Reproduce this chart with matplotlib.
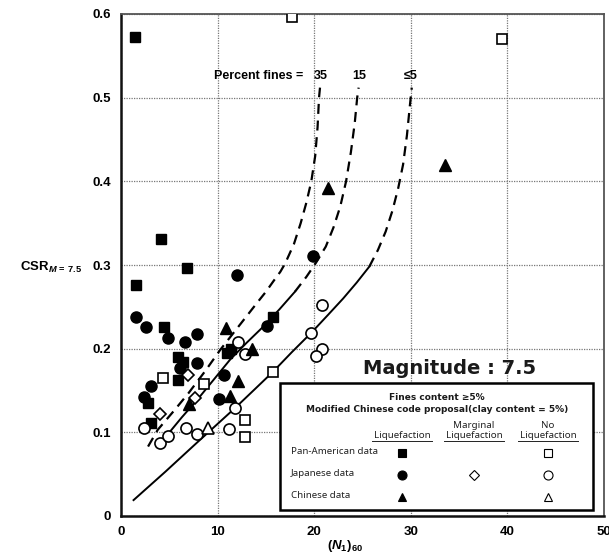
import matplotlib
matplotlib.use("Agg")
import matplotlib.pyplot as plt
from matplotlib.lines import Line2D
from matplotlib.patches import Rectangle

plt.rcParams['font.family'] = ['Liberation Sans', 'DejaVu Sans']
plt.rcParams['mathtext.fontset'] = 'custom'
plt.rcParams['mathtext.rm'] = 'Liberation Sans:bold'
plt.rcParams['mathtext.it'] = 'Liberation Sans:italic:bold'
plt.rcParams['mathtext.bf'] = 'Liberation Sans:bold'

# ---------------- data ----------------
# Pan-American data
pa_liq_x = [1.4, 4.1, 6.8, 1.6, 4.5, 5.9, 6.4, 5.9, 2.8, 3.1, 11.0, 11.4, 15.7]
pa_liq_y = [0.572, 0.331, 0.297, 0.276, 0.226, 0.190, 0.184, 0.163, 0.135, 0.111, 0.195, 0.200, 0.238]
pa_no_x = [17.7, 39.4, 4.3, 8.6, 15.7, 12.8, 12.8]
pa_no_y = [0.597, 0.570, 0.165, 0.158, 0.172, 0.115, 0.094]

# Japanese data
jp_liq_x = [12.0, 19.9, 1.6, 2.6, 4.9, 6.6, 7.9, 15.1, 6.1, 7.9, 3.1, 2.4, 10.7, 10.1]
jp_liq_y = [0.288, 0.311, 0.238, 0.226, 0.213, 0.208, 0.218, 0.227, 0.177, 0.183, 0.155, 0.142, 0.169, 0.140]
jp_marg_x = [6.9, 7.7, 4.0]
jp_marg_y = [0.169, 0.141, 0.122]
jp_no_x = [2.4, 4.0, 4.9, 6.7, 7.9, 11.2, 11.8, 12.1, 12.8, 19.7, 20.8, 20.8, 20.2]
jp_no_y = [0.105, 0.087, 0.096, 0.105, 0.098, 0.104, 0.129, 0.208, 0.194, 0.219, 0.252, 0.200, 0.191]

# Chinese data
cn_liq_x = [10.9, 13.6, 12.1, 11.3, 7.0, 21.4, 33.5]
cn_liq_y = [0.225, 0.200, 0.161, 0.143, 0.134, 0.392, 0.419]
cn_no_x = [9.0]
cn_no_y = [0.105]

# boundary curves (percent fines)
f35_x = [2.8, 3.8, 5.5, 7.0, 8.7, 10.3, 12.2, 14.1, 15.0, 15.8, 16.5, 17.0, 17.9, 18.6,
         19.2, 19.7, 20.1, 20.35, 20.5, 20.6]
f35_y = [0.083, 0.103, 0.126, 0.147, 0.173, 0.199, 0.227, 0.255, 0.268, 0.281, 0.292, 0.302,
         0.325, 0.350, 0.375, 0.400, 0.430, 0.465, 0.500, 0.512]

f15_solid_x = [4.8, 6.3, 7.9, 9.6, 11.3, 13.0, 14.7, 16.4, 18.0]
f15_solid_y = [0.097, 0.118, 0.139, 0.163, 0.187, 0.207, 0.226, 0.247, 0.268]
f15_dash_x = [18.0, 19.2, 20.2, 21.2, 22.0, 22.7, 23.3, 23.8, 24.2, 24.45, 24.6]
f15_dash_y = [0.268, 0.286, 0.303, 0.322, 0.345, 0.370, 0.400, 0.435, 0.470, 0.500, 0.512]

f5_solid_x = [1.3, 4.6, 7.8, 9.8, 11.8, 13.8, 15.7, 17.7, 19.7, 21.4, 23.0, 24.4, 25.7]
f5_solid_y = [0.019, 0.053, 0.087, 0.108, 0.129, 0.151, 0.172, 0.196, 0.219, 0.240, 0.260, 0.279, 0.298]
f5_dash_x = [25.7, 26.6, 27.4, 28.1, 28.7, 29.2, 29.6, 29.9, 30.1]
f5_dash_y = [0.298, 0.318, 0.340, 0.365, 0.392, 0.420, 0.455, 0.490, 0.512]

curve_labels = ['35', '15', '≤5']
curve_label_x = [20.7, 24.7, 30.0]
curve_label_y = 0.526

x_ticks = [0, 10, 20, 30, 40, 50]
y_ticks = [0, 0.1, 0.2, 0.3, 0.4, 0.5, 0.6]
y_tick_labels = ['0', '0.1', '0.2', '0.3', '0.4', '0.5', '0.6']

# ---------------- figure ----------------
W, H = 609, 554
fig = plt.figure(figsize=(W / 100, H / 100), dpi=100)
ax = fig.add_axes([121 / W, 1 - 516 / H, (604 - 121) / W, (516 - 14) / H])

def fx(px):
    return px / W

def fy(py):
    return 1 - py / H

ax.set_xlim(0, 50)
ax.set_ylim(0, 0.6)
ax.set_xticks(x_ticks)
ax.set_yticks(y_ticks)
ax.set_yticklabels(y_tick_labels)
ax.tick_params(length=0, labelsize=9.5, pad=7)
for lab in ax.get_xticklabels() + ax.get_yticklabels():
    lab.set_fontweight('bold')
ax.grid(True, color='#777777', linestyle=(0, (1, 1)), linewidth=0.9)
ax.set_axisbelow(True)
for side in ['left', 'bottom']:
    ax.spines[side].set_linewidth(1.8)
    ax.spines[side].set_color('#111111')
for side in ['top', 'right']:
    ax.spines[side].set_linewidth(1.3)
    ax.spines[side].set_color('#555555')

# curves
dash = (0, (4.5, 3))
ax.plot(f35_x, f35_y, color='black', linestyle=dash, linewidth=1.6)
ax.plot(f15_solid_x, f15_solid_y, color='black', linewidth=1.4)
ax.plot(f15_dash_x, f15_dash_y, color='black', linestyle=dash, linewidth=1.6)
ax.plot(f5_solid_x, f5_solid_y, color='black', linewidth=1.4)
ax.plot(f5_dash_x, f5_dash_y, color='black', linestyle=dash, linewidth=1.6)

# markers
ms = 8
ax.plot(pa_liq_x, pa_liq_y, 's', color='black', markersize=7, linestyle='none', zorder=5)
ax.plot(pa_no_x, pa_no_y, 's', markerfacecolor='white', markeredgecolor='black',
        markersize=7.5, markeredgewidth=1.2, linestyle='none', zorder=5)
ax.plot(jp_liq_x, jp_liq_y, 'o', color='black', markersize=ms, linestyle='none', zorder=5)
ax.plot(jp_marg_x, jp_marg_y, 'D', markerfacecolor='white', markeredgecolor='black',
        markersize=6.5, markeredgewidth=1.2, linestyle='none', zorder=5)
ax.plot(jp_no_x, jp_no_y, 'o', markerfacecolor='white', markeredgecolor='black',
        markersize=ms, markeredgewidth=1.2, linestyle='none', zorder=5)
ax.plot(cn_liq_x, cn_liq_y, '^', color='black', markersize=ms, linestyle='none', zorder=5)
ax.plot(cn_no_x, cn_no_y, '^', markerfacecolor='white', markeredgecolor='black',
        markersize=ms, markeredgewidth=1.2, linestyle='none', zorder=5)

# percent fines labels
ax.text(18.9, curve_label_y, 'Percent fines =', ha='right', va='center',
        fontsize=9, fontweight='bold')
for lab, lx in zip(curve_labels, curve_label_x):
    ax.text(lx, curve_label_y, lab, ha='center', va='center', fontsize=9, fontweight='bold')

# axis labels
fig.text(fx(20), fy(267), r'CSR$_{M\,=\,7.5}$', ha='left', va='center', fontsize=9.5,
         fontweight='bold')
fig.text(fx(345), fy(546), r'$(N_1)_{60}$', ha='center', va='center', fontsize=9.5)

# Magnitude text
fig.text(fx(450), fy(368), 'Magnitude : 7.5', ha='center', va='center', fontsize=14,
         fontweight='bold', family=['DejaVu Sans'], color='#1a1a1a', zorder=10)

# legend box
box = Rectangle((fx(280), fy(510)), fx(593) - fx(280), fy(383) - fy(510),
                transform=fig.transFigure, facecolor='white', edgecolor='black',
                linewidth=1.8, zorder=8)
fig.add_artist(box)

bfont = ['DejaVu Sans']
lfont = ['Noto Sans', 'DejaVu Sans']
fig.text(fx(437), fy(397), 'Fines content ≥5%', ha='center', va='center', fontsize=6.5,
         fontweight='bold', family=bfont, color='#1a1a1a', zorder=10)
fig.text(fx(437), fy(409), 'Modified Chinese code proposal(clay content = 5%)',
         ha='center', va='center', fontsize=6.5, fontweight='bold', family=bfont,
         color='#1a1a1a', zorder=10)

col_x = [402, 474, 548]
headers = [('', 'Liquefaction'), ('Marginal', 'Liquefaction'), ('No', 'Liquefaction')]
for cx, (h1, h2) in zip(col_x, headers):
    if h1:
        fig.text(fx(cx), fy(425), h1, ha='center', va='center', fontsize=7, family=lfont,
                 color='#222222', zorder=10)
    fig.text(fx(cx), fy(436), h2, ha='center', va='center', fontsize=7, family=lfont,
             color='#222222', zorder=10)
    fig.add_artist(Line2D([fx(cx - 30), fx(cx + 30)], [fy(441), fy(441)],
                          transform=fig.transFigure, color='#222222', linewidth=0.7, zorder=10))

row_y = [452, 474, 496]
row_labels = ['Pan-American data', 'Japanese data', 'Chinese data']
for ry, rl in zip(row_y, row_labels):
    fig.text(fx(291), fy(ry), rl, ha='left', va='center', fontsize=7, family=lfont,
             color='#222222', zorder=10)

leg_items = [
    (0, 0, 's', 'black', 5.5), (0, 2, 's', 'white', 6),
    (1, 0, 'o', 'black', 6.5), (1, 1, 'D', 'white', 5), (1, 2, 'o', 'white', 6.5),
    (2, 0, '^', 'black', 6), (2, 2, '^', 'white', 6),
]
for r, c, m, fc, s in leg_items:
    fig.add_artist(Line2D([fx(col_x[c])], [fy(row_y[r] + 1)], transform=fig.transFigure,
                          marker=m, markersize=s, markerfacecolor=fc,
                          markeredgecolor='black', markeredgewidth=0.8,
                          linestyle='none', zorder=11))

fig.savefig('out.png', dpi=100)
